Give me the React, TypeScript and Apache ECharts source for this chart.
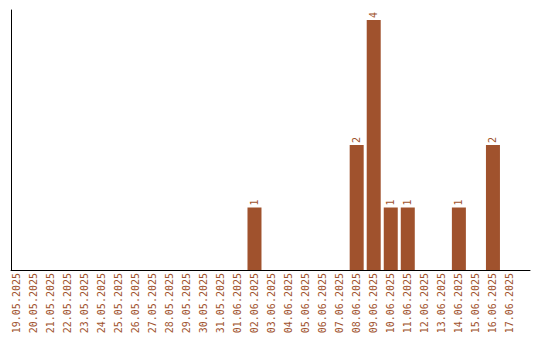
import React, { useEffect, useRef } from "react";
import * as echarts from "echarts";

const categories = [
  "19.05.2025", "20.05.2025", "21.05.2025", "22.05.2025", "23.05.2025",
  "24.05.2025", "25.05.2025", "26.05.2025", "27.05.2025", "28.05.2025",
  "29.05.2025", "30.05.2025", "31.05.2025", "01.06.2025", "02.06.2025",
  "03.06.2025", "04.06.2025", "05.06.2025", "06.06.2025", "07.06.2025",
  "08.06.2025", "09.06.2025", "10.06.2025", "11.06.2025", "12.06.2025",
  "13.06.2025", "14.06.2025", "15.06.2025", "16.06.2025", "17.06.2025",
];

const counts = [
  0, 0, 0, 0, 0,
  0, 0, 0, 0, 0,
  0, 0, 0, 0, 1,
  0, 0, 0, 0, 0,
  2, 4, 1, 1, 0,
  0, 1, 0, 2, 0,
];

const BROWN = "#A0522D";
const FONT = "DejaVu Sans Mono";

export default function App() {
  const ref = useRef<HTMLDivElement>(null);
  useEffect(() => {
    if (!ref.current) return;
    const chart = echarts.init(ref.current, undefined, { renderer: "svg" });
    chart.setOption({
      animation: false,
      grid: [
        { left: 7.5, right: 21.5, top: 20, bottom: 70 },
        { left: 11, right: 10, top: 10, bottom: 70 },
      ],
      xAxis: [
        {
          type: "category",
          gridIndex: 0,
          data: categories,
          axisLine: { show: false },
          axisTick: { show: false },
          axisLabel: {
            rotate: 90,
            interval: 0,
            margin: 3,
            color: BROWN,
            fontFamily: FONT,
            fontSize: 10,
          },
        },
        {
          type: "value",
          gridIndex: 1,
          min: 0,
          max: 1,
          axisLine: { show: true, lineStyle: { color: "#000", width: 1 } },
          axisTick: { show: false },
          axisLabel: { show: false },
          splitLine: { show: false },
        },
      ],
      yAxis: [
        {
          type: "value",
          gridIndex: 0,
          min: 0,
          max: 4,
          axisLine: { show: false },
          axisTick: { show: false },
          axisLabel: { show: false },
          splitLine: { show: false },
        },
        {
          type: "value",
          gridIndex: 1,
          min: 0,
          max: 1,
          axisLine: { show: true, lineStyle: { color: "#000", width: 1 } },
          axisTick: { show: false },
          axisLabel: { show: false },
          splitLine: { show: false },
        },
      ],
      series: [
        {
          type: "bar",
          xAxisIndex: 0,
          yAxisIndex: 0,
          data: counts,
          barWidth: 14,
          itemStyle: { color: BROWN },
          label: {
            show: true,
            position: "top",
            distance: 2,
            rotate: 90,
            align: "left",
            verticalAlign: "middle",
            color: BROWN,
            fontFamily: FONT,
            fontSize: 10,
            formatter: (p: any) => (p.value ? String(p.value) : ""),
          },
        },
      ],
    });
    return () => chart.dispose();
  }, []);
  return (
    <div
      ref={ref}
      style={{ position: "absolute", left: 0, top: 0, width: 540, height: 340 }}
    />
  );
}
